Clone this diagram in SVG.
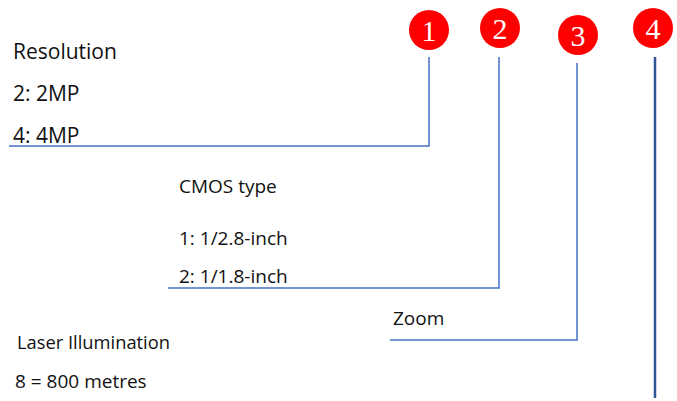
<svg xmlns="http://www.w3.org/2000/svg" width="677" height="401" viewBox="0 0 677 401">
<style>
.t{font-family:"Open Sans","Liberation Sans",sans-serif;font-size:19px;fill:#111}
.L{font-size:21px}
.b{fill:#ff0000}
.n{font-family:"Liberation Serif","DejaVu Serif",serif;font-size:30px;fill:#fff;text-anchor:middle}
.c{fill:none;stroke:#4472c4;stroke-width:1.5}
</style>
<rect width="677" height="401" fill="#fff"/>
<g id="badge1"><circle class="b" cx="429" cy="30" r="20"/><text class="n" x="429" y="41">1</text></g>
<g id="badge2"><circle class="b" cx="500" cy="28" r="20"/><text class="n" x="500" y="39">2</text></g>
<g id="badge3"><circle class="b" cx="578" cy="35" r="20"/><text class="n" x="578" y="46">3</text></g>
<g id="badge4"><circle class="b" cx="653" cy="28" r="20"/><text class="n" x="653" y="39">4</text></g>
<g id="resolution">
<text class="t L" x="13" y="59">Resolution</text>
<text class="t L" x="13" y="101">2: 2MP</text>
<text class="t L" x="13" y="143">4: 4MP</text>
</g>
<g id="cmos">
<text class="t" x="179" y="193">CMOS type</text>
<text class="t" x="179" y="245">1: 1/2.8-inch</text>
<text class="t" x="179" y="283">2: 1/1.8-inch</text>
</g>
<g id="zoom"><text class="t" x="393" y="325">Zoom</text></g>
<g id="laser">
<text class="t" x="17" y="349" textLength="153" lengthAdjust="spacingAndGlyphs">Laser Illumination</text>
<text class="t" x="15" y="388">8 = 800 metres</text>
</g>
<g id="connectors">
<polyline class="c" points="429,57 429,146 9,146"/>
<polyline class="c" points="499,57 499,288 168,288"/>
<polyline class="c" points="577,63 577,340 390,340"/>
<line x1="655" y1="57" x2="655" y2="398" stroke="#2f5597" stroke-width="2.5"/>
</g>
</svg>
